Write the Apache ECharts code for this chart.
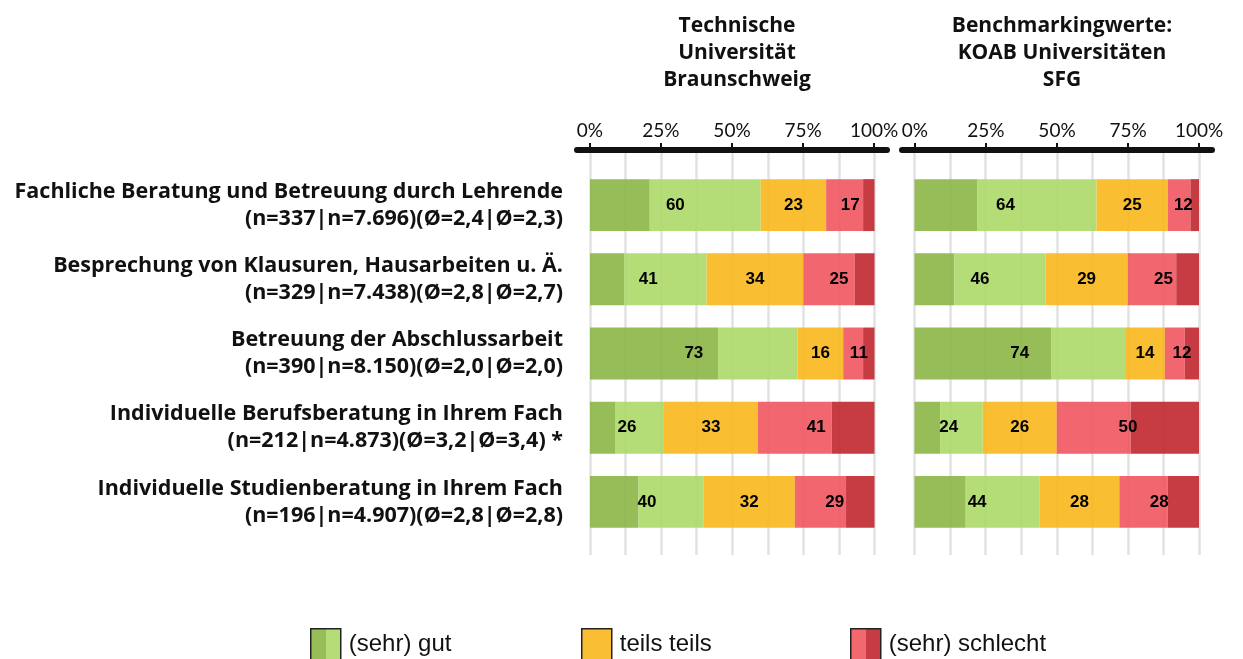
<!DOCTYPE html>
<html lang="de">
<head>
    <meta charset="UTF-8">
    <title>Beratung und Betreuung</title>
    <style>
        html,
        body {
            margin: 0;
            width: 100%;
            height: 100%;
            background: #fff;
        }
    </style>
</head>
<body>
    <div id="main" style="width: 1243px;height:659px;"></div>
    <script src="https://cdn.jsdelivr.net/npm/echarts@6/dist/echarts.min.js"></script>
    <script type="text/javascript">
        // Zeilen
        var items = [
            'Fachliche Beratung und Betreuung durch Lehrende',
            'Besprechung von Klausuren, Hausarbeiten u. Ä.',
            'Betreuung der Abschlussarbeit',
            'Individuelle Berufsberatung in Ihrem Fach',
            'Individuelle Studienberatung in Ihrem Fach'
        ];
        var stats = [
            '(n=337|n=7.696)(Ø=2,4|Ø=2,3)',
            '(n=329|n=7.438)(Ø=2,8|Ø=2,7)',
            '(n=390|n=8.150)(Ø=2,0|Ø=2,0)',
            '(n=212|n=4.873)(Ø=3,2|Ø=3,4) *',
            '(n=196|n=4.907)(Ø=2,8|Ø=2,8)'
        ];
        var ticks = [0, 25, 50, 75, 100];

        // TU Braunschweig (Segmente in %)
        var tuSehrGut = [21, 12, 45, 9, 17];
        var tuGut = [39, 29, 28, 17, 23];
        var tuTeils = [23, 34, 16, 33, 32];
        var tuSchlecht = [13, 18, 7, 26, 18];
        var tuSehrSchlecht = [4, 7, 4, 15, 10];
        // TU Braunschweig (Beschriftung)
        var tuGutLabel = [60, 41, 73, 26, 40];
        var tuTeilsLabel = [23, 34, 16, 33, 32];
        var tuSchlechtLabel = [17, 25, 11, 41, 29];

        // KOAB Universitäten SFG
        var koSehrGut = [22, 14, 48, 9, 18];
        var koGut = [42, 32, 26, 15, 26];
        var koTeils = [25, 29, 14, 26, 28];
        var koSchlecht = [8, 17, 7, 26, 17];
        var koSehrSchlecht = [3, 8, 5, 24, 11];
        var koGutLabel = [64, 46, 74, 24, 44];
        var koTeilsLabel = [25, 29, 14, 26, 28];
        var koSchlechtLabel = [12, 25, 12, 50, 28];

        var categories = items.map(function (t, i) { return t + '\n' + stats[i]; });

        var cDarkGreen = '#8bb645', cLightGreen = '#add968', cOrange = '#f8b71c',
            cLightRed = '#f1575f', cDarkRed = '#c1262f';
        var ink = '#111';

        var myChart = echarts.init(document.getElementById('main'));

        function twoTone(a, b) {
            return new echarts.graphic.LinearGradient(0, 0, 1, 0, [
                { offset: 0, color: a }, { offset: 0.5, color: a },
                { offset: 0.5, color: b }, { offset: 1, color: b }
            ]);
        }

        // je Panel: Achsen-Grid, Gitterlinien-Grid, Balken-Grid
        var panels = [
            { axisLeft: 577, barLeft: 590 },
            { axisLeft: 902, barLeft: 914.5 }
        ];
        var grids = [], xAxes = [], yAxes = [];
        panels.forEach(function (p, k) {
            grids.push({ left: p.axisLeft, width: 310, top: 150, height: 405 });
            grids.push({ left: p.barLeft, width: 284.5, top: 150, height: 405 });
            grids.push({ left: p.barLeft, width: 284.5, top: 168, height: 371 });
            var g = k * 3;
            xAxes.push({
                gridIndex: g, type: 'value', position: 'top', min: -4.5, max: 104.5,
                axisLine: { show: true, onZero: false, lineStyle: { color: ink, width: 6, cap: 'round' } },
                axisTick: { show: true, customValues: ticks, length: 7, lineStyle: { color: ink, width: 2 } },
                axisLabel: { customValues: ticks, formatter: '{value}%', color: ink, fontSize: 19, fontFamily: 'Lato', margin: 10 },
                splitLine: { show: false }
            });
            xAxes.push({
                gridIndex: g + 1, type: 'value', min: 0, max: 100, interval: 12.5,
                axisLine: { show: false }, axisTick: { show: false }, axisLabel: { show: false },
                splitLine: { show: true, lineStyle: { color: '#e2e2e2', width: 2.5 } }
            });
            xAxes.push({ gridIndex: g + 2, type: 'value', min: 0, max: 100, show: false });
            yAxes.push({ gridIndex: g, type: 'value', min: 0, max: 1, show: false });
            yAxes.push({ gridIndex: g + 1, type: 'value', min: 0, max: 1, show: false });
            yAxes.push({
                gridIndex: g + 2, type: 'category', inverse: true, data: categories,
                axisLine: { show: false }, axisTick: { show: false },
                axisLabel: {
                    show: k === 0, color: ink, fontSize: 21.5, fontWeight: 'bold', fontFamily: 'Open Sans',
                    lineHeight: 27, align: 'right', margin: 27
                }
            });
        });

        var series = [];
        function addPanel(idx, segs, labs) {
            var names = ['sehr gut', 'gut', 'teils teils (Segment)', 'schlecht', 'sehr schlecht'];
            var cols = [cDarkGreen, cLightGreen, cOrange, cLightRed, cDarkRed];
            segs.forEach(function (d, i) {
                series.push({
                    name: names[i], type: 'bar', xAxisIndex: idx, yAxisIndex: idx,
                    stack: 'seg' + idx, data: d, barCategoryGap: '30%', barGap: '-100%',
                    itemStyle: { color: cols[i], opacity: 0.9 }, silent: true
                });
            });
            var labNames = ['(sehr) gut', 'teils teils', '(sehr) schlecht'];
            labs.forEach(function (d, i) {
                series.push({
                    name: labNames[i], type: 'bar', xAxisIndex: idx, yAxisIndex: idx,
                    stack: 'lab' + idx, data: d, barCategoryGap: '30%', barGap: '-100%',
                    itemStyle: { color: 'rgba(0,0,0,0)' }, silent: true, z: 3,
                    label: {
                        show: true, position: 'inside', formatter: '{c}', color: '#000',
                        fontSize: 17, fontWeight: 'bold', fontFamily: 'Liberation Sans'
                    }
                });
            });
        }
        addPanel(2, [tuSehrGut, tuGut, tuTeils, tuSchlecht, tuSehrSchlecht], [tuGutLabel, tuTeilsLabel, tuSchlechtLabel]);
        addPanel(5, [koSehrGut, koGut, koTeils, koSchlecht, koSehrSchlecht], [koGutLabel, koTeilsLabel, koSchlechtLabel]);

        function oneLegend(name, left, a, b) {
            return {
                left: left, top: 628, padding: 0, icon: 'rect', itemWidth: 30, itemHeight: 31, selectedMode: false,
                textStyle: { color: ink, fontSize: 24, fontFamily: 'Liberation Sans', padding: [0, 0, 0, 3] },
                data: [{ name: name, itemStyle: { color: twoTone(a, b), borderColor: '#222', borderWidth: 1.5, opacity: 1 } }]
            };
        }

        var option = {
            animation: false,
            title: [{
                text: 'Technische\nUniversität\nBraunschweig', left: 732, top: 8, textAlign: 'center',
                textStyle: { color: ink, fontSize: 21, fontWeight: 'bold', fontFamily: 'Open Sans', lineHeight: 27 }
            }, {
                text: 'Benchmarkingwerte:\nKOAB Universitäten\nSFG', left: 1057, top: 8, textAlign: 'center',
                textStyle: { color: ink, fontSize: 21, fontWeight: 'bold', fontFamily: 'Open Sans', lineHeight: 27 }
            }],
            legend: [
                oneLegend('(sehr) gut', 310, '#97bd58', '#b5dd77'),
                oneLegend('teils teils', 581, '#f9be33', '#f9be33'),
                oneLegend('(sehr) schlecht', 850, '#f2686f', '#c73c44')
            ],
            grid: grids,
            xAxis: xAxes,
            yAxis: yAxes,
            series: series
        };
        myChart.setOption(option);
        window.addEventListener("resize", function () {
            myChart.resize();
        });
    </script>
</body>
</html>
